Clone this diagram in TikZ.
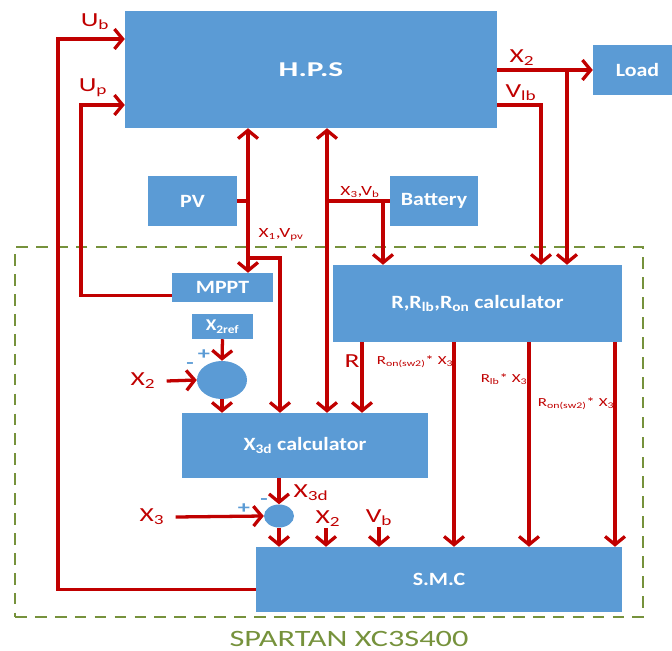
\documentclass[tikz,border=0pt]{standalone}
\usepackage{fontspec}
\setmainfont{Carlito}[FakeStretch=1.38]
\newfontfamily\boxfont{Carlito}[FakeStretch=1.17]
\usetikzlibrary{arrows.meta,positioning,fit,shapes.geometric}
\definecolor{boxblue}{HTML}{5B9BD5}
\definecolor{sigred}{HTML}{C00000}
\definecolor{fpgagreen}{HTML}{76923C}

\begin{document}
\begin{tikzpicture}[x=0.03cm,y=-0.03cm,
    blk/.style={fill=boxblue,inner sep=0pt},
    btxt/.style={text=white,inner sep=0pt,font=\boxfont\bfseries\fontsize{16}{18}\selectfont},
    wire/.style={draw=sigred,line width=2.8pt},
    sig/.style={wire,-{Straight Barb[length=7pt,width=17pt]}},
    sigb/.style={wire,{Straight Barb[length=7pt,width=17pt]}-{Straight Barb[length=7pt,width=17pt]}},
    lab/.style={text=sigred,inner sep=1pt,font=\fontsize{17}{19}\selectfont},
    slab/.style={text=sigred,inner sep=1pt,font=\fontsize{12}{14}\selectfont},
    tlab/.style={text=sigred,inner sep=1pt,font=\fontsize{10.5}{12}\selectfont},
    sgn/.style={text=boxblue,inner sep=0pt,font=\bfseries\fontsize{15}{15}\selectfont}]
  \useasboundingbox (0,0) rectangle (672,651);
  % FPGA frame
  \node[draw=fpgagreen,line width=2pt,dash pattern=on 10pt off 7pt,inner sep=0pt,fit={(15,247) (643,617)}] (fpga) {};
  \node[text=fpgagreen,inner sep=0pt,font=\fontsize{20}{22}\selectfont] (fpgalab) at (349,639) {SPARTAN XC3S400};
  % blocks
  \node[blk,fit={(125,11) (497,128)},label={[btxt,font=\boxfont\bfseries\fontsize{18}{20}\selectfont]center:\scalebox{1.27}[1]{H.P.S}}] (hps) {};
  \node[blk,fit={(593,45) (672,95)},label={[btxt,xshift=0.15cm]center:Load}] (load) {};
  \node[blk,fit={(148,176) (237,226)},label={[btxt]center:PV}] (pv) {};
  \node[blk,fit={(390,176) (478,226)},label={[btxt]center:Battery}] (bat) {};
  \node[blk,fit={(172,273) (273,302)},label={[btxt]center:MPPT}] (mppt) {};
  \node[blk,fit={(333,265) (622,342)},label={[btxt]center:R,R\textsubscript{lb},R\textsubscript{on} calculator}] (rcal) {};
  \node[blk,fit={(192,314) (253,339)},label={[btxt,font=\boxfont\bfseries\fontsize{14}{16}\selectfont]center:X\textsubscript{2ref}}] (x2r) {};
  \node[blk,ellipse,minimum width=1.5cm,minimum height=1.14cm] (sum1) at (222,380) {};
  \node[blk,fit={(182,413) (428,478)},label={[btxt]center:X\textsubscript{3d} calculator}] (x3d) {};
  \node[blk,ellipse,minimum width=0.9cm,minimum height=0.69cm] (sum2) at (279,516) {};
  \node[blk,fit={(256,547) (622,612)},label={[btxt]center:S.M.C}] (smc) {};
  % junction points
  \coordinate (ubx) at (58,39);
  \coordinate (upx) at (81,105);
  \coordinate (pvx) at (248,201);
  \coordinate (brx) at (280,258);
  \coordinate (btx) at (327,201);
  \coordinate (bdx) at (383,201);
  \coordinate (x2x) at (567,70);
  \coordinate (vlx) at (541,105);
  % feedback to H.P.S
  \draw[sig] ([yshift=-0.3cm]smc.west) -| (ubx) -- (hps.west |- ubx);
  \draw[sig] ([yshift=-0.25cm]mppt.west) -| (upx) -- (hps.west |- upx);
  \node[lab] (ub) at (95,22) {U\textsubscript{b}};
  \node[lab] (up) at (93,88) {U\textsubscript{p}};
  % PV and battery buses
  \draw[sigb] (hps.south -| pvx) -- (mppt.north -| pvx);
  \draw[wire] (pv.east) -- (pvx);
  \draw[sig] (brx -| pvx) -| (x3d.north -| brx);
  \draw[sigb] (hps.south -| btx) -- (x3d.north -| btx);
  \draw[wire] (bat.west) -- (btx);
  \draw[sig] (bdx) -- (rcal.north -| bdx);
  \node[slab] (x1v) at (281,235) {X\textsubscript{1},V\textsubscript{pv}};
  \node[slab] (x3v) at (360,192) {X\textsubscript{3},V\textsubscript{b}};
  % H.P.S outputs
  \draw[sig] (hps.east |- load) -- (load.west);
  \draw[sig] (x2x) -- (rcal.north -| x2x);
  \draw[sig] (hps.east |- vlx) -| (rcal.north -| vlx);
  \node[lab] (x2o) at (522,58) {X\textsubscript{2}};
  \node[lab] (vlb) at (521,93) {V\textsubscript{lb}};
  % calculator outputs
  \foreach \x/\dst in {362/x3d,454/smc,529/smc,615/smc}
    \draw[sig] (rcal.south -| \x,0) -- (\dst.north -| \x,0);
  \node[lab] (rl) at (352,361) {R};
  \node[tlab] (ron1) at (415,362) {R\textsubscript{on(sw2)}* X\textsubscript{3}};
  \node[tlab] (rlb) at (504,379) {R\textsubscript{lb}* X\textsubscript{3}};
  \node[tlab] (ron2) at (576,404) {R\textsubscript{on(sw2)}* X\textsubscript{3}};
  % X2 error loop
  \node[lab] (x2a) at (143,381) {X\textsubscript{2}};
  \draw[sig] ([xshift=0.3cm]x2a.east) -- (sum1.west);
  \draw[sig] (x2r.south) -- (sum1.north);
  \draw[sig] (sum1.south) -- (x3d.north -| sum1);
  \node[sgn] (p1) at (204,355) {+};
  \node[sgn] (m1) at (190,366) {-};
  % X3 error loop
  \node[lab] (x3dl) at (311,493) {X\textsubscript{3d}};
  \node[lab] (x3a) at (152,517) {X\textsubscript{3}};
  \draw[sig] (x3d.south -| sum2) -- (sum2.north);
  \draw[sig] ([xshift=0.3cm]x3a.east) -- (sum2.west);
  \draw[sig] (sum2.south) -- (smc.north -| sum2);
  \node[sgn] (p2) at (244,509) {+};
  \node[sgn] (m2) at (264,502) {-};
  \node[lab] (x2b) at (328,519) {X\textsubscript{2}};
  \node[lab] (vb) at (379,518) {V\textsubscript{b}};
  \draw[sig] (x2b.south -| 326,0) -- (smc.north -| 326,0);
  \draw[sig] (vb.south) -- (smc.north -| vb);
\end{tikzpicture}
\end{document}
